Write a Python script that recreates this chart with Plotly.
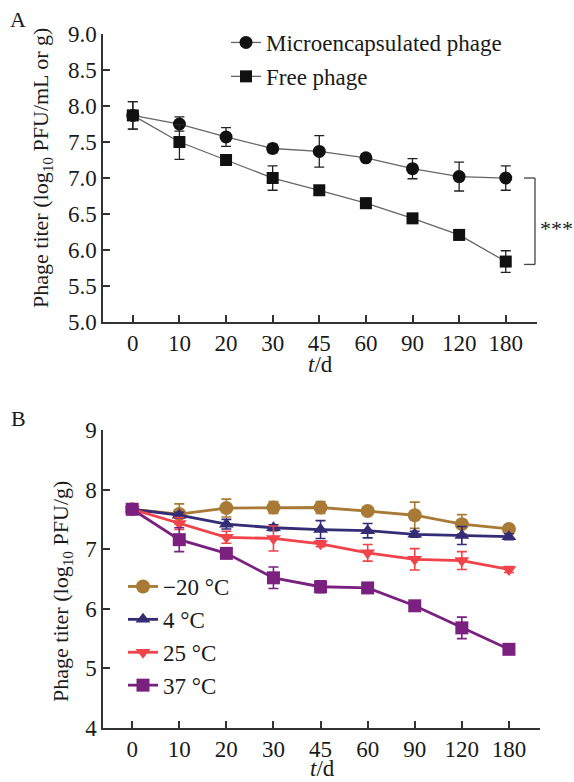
import plotly.graph_objects as go

# ---------------- data ----------------
days = ["0", "10", "20", "30", "45", "60", "90", "120", "180"]

# Panel A
micro = [7.87, 7.75, 7.57, 7.41, 7.37, 7.28, 7.13, 7.02, 7.00]
micro_err = [0.19, 0.10, 0.13, 0.06, 0.22, 0.04, 0.14, 0.20, 0.17]
free = [7.87, 7.50, 7.25, 7.00, 6.83, 6.65, 6.44, 6.21, 5.84]
free_err = [0.19, 0.24, 0.05, 0.17, 0.04, 0.07, 0.04, 0.07, 0.15]

# Panel B
t_m20 = [7.67, 7.59, 7.69, 7.70, 7.70, 7.64, 7.57, 7.42, 7.34]
t_m20_err = [0.05, 0.17, 0.15, 0.10, 0.10, 0.04, 0.22, 0.16, 0.04]
t_4 = [7.67, 7.57, 7.42, 7.36, 7.33, 7.31, 7.25, 7.23, 7.21]
t_4_err = [0.05, 0.05, 0.08, 0.05, 0.15, 0.12, 0.05, 0.15, 0.05]
t_25 = [7.67, 7.43, 7.20, 7.18, 7.09, 6.94, 6.83, 6.81, 6.66]
t_25_err = [0.05, 0.10, 0.10, 0.21, 0.05, 0.14, 0.18, 0.15, 0.05]
t_37 = [7.67, 7.16, 6.93, 6.52, 6.37, 6.35, 6.05, 5.68, 5.32]
t_37_err = [0.05, 0.20, 0.05, 0.18, 0.10, 0.04, 0.06, 0.18, 0.04]

FONT = "Liberation Serif"
AX = "#333333"

fig = go.Figure()

# ---------------- Panel A ----------------
fig.add_trace(go.Scatter(
    x=days, y=micro, name="Microencapsulated phage", mode="lines+markers",
    line=dict(color="#666666", width=1.3),
    marker=dict(symbol="circle", size=13, color="#111111"),
    error_y=dict(type="data", array=micro_err, color="#222222", thickness=1.3, width=5),
    xaxis="x", yaxis="y", legend="legend", legendgroup="a1"))
fig.add_trace(go.Scatter(
    x=days, y=free, name="Free phage", mode="lines+markers",
    line=dict(color="#666666", width=1.3),
    marker=dict(symbol="square", size=12, color="#111111"),
    error_y=dict(type="data", array=free_err, color="#222222", thickness=1.3, width=5),
    xaxis="x", yaxis="y", legend="legend", legendgroup="a2"))

# ---------------- Panel B ----------------
series_b = [
    ("\u221220 \u00b0C", t_m20, t_m20_err, "#A87A35", "circle", 14),
    ("4 \u00b0C", t_4, t_4_err, "#352C76", "triangle-up", 13),
    ("25 \u00b0C", t_25, t_25_err, "#F0434A", "triangle-down", 13),
    ("37 \u00b0C", t_37, t_37_err, "#7A2180", "square", 13),
]
for i, (nm, vals, errs, col, sym, sz) in enumerate(series_b):
    fig.add_trace(go.Scatter(
        x=days, y=vals, name=nm, mode="lines+markers",
        line=dict(color=col, width=2.8),
        marker=dict(symbol=sym, size=sz, color=col),
        error_y=dict(type="data", array=errs, color=col, thickness=1.6, width=5),
        xaxis="x2", yaxis="y2", legend="legend2", legendgroup="b%d" % i))

axis_common = dict(
    showline=True, linecolor=AX, linewidth=1.5, ticks="inside", ticklen=7,
    tickcolor=AX, tickwidth=1.5, showgrid=False, zeroline=False,
    tickfont=dict(family=FONT, size=23, color="#1a1a1a"),
)

fig.update_layout(
    width=574, height=782, margin=dict(l=0, r=0, t=0, b=0, autoexpand=False),
    paper_bgcolor="white", plot_bgcolor="white",
    font=dict(family=FONT, size=22, color="#1a1a1a"),
    xaxis=dict(domain=[0.1794, 0.9355], type="category", range=[-0.64, 8.67],
               anchor="y", **axis_common),
    yaxis=dict(domain=[0.5882, 0.9565], range=[5, 9], dtick=0.5, tickformat=".1f",
               anchor="x", **axis_common),
    xaxis2=dict(domain=[0.1794, 0.9408], type="category", range=[-0.62, 8.66],
                anchor="y2", **axis_common),
    yaxis2=dict(domain=[0.0691, 0.4501], range=[4, 9], dtick=1,
                anchor="x2", **axis_common),
    legend=dict(x=226 / 574, y=1.0 - 21 / 782, xanchor="left", yanchor="top",
                bgcolor="rgba(0,0,0,0)", font=dict(family=FONT, size=23),
                traceorder="grouped", tracegroupgap=1, itemwidth=30),
    legend2=dict(x=123 / 574, y=1.0 - 565 / 782, xanchor="left", yanchor="top",
                 bgcolor="rgba(0,0,0,0)", font=dict(family=FONT, size=23),
                 traceorder="grouped", tracegroupgap=0, itemwidth=30),
)

annos = [
    dict(text="A", x=18 / 574, y=1 - 19 / 782, font=dict(size=22)),
    dict(text="B", x=18 / 574, y=1 - 418 / 782, font=dict(size=22)),
    dict(text="Phage titer (log<sub>10</sub> PFU/mL or g)", x=42 / 574, y=1 - 168 / 782,
         textangle=-90, font=dict(size=22)),
    dict(text="Phage titer (log<sub>10</sub> PFU/g)", x=62 / 574, y=1 - 592 / 782,
         textangle=-90, font=dict(size=22)),
    dict(text="<i>t</i>/d", x=320 / 574, y=1 - 364 / 782, font=dict(size=23)),
    dict(text="<i>t</i>/d", x=322 / 574, y=1 - 768 / 782, font=dict(size=23)),
    dict(text="***", x=556 / 574, y=1 - 228 / 782, font=dict(size=22)),
]
for a in annos:
    a.update(xref="paper", yref="paper", showarrow=False, xanchor="center", yanchor="middle")
    fig.add_annotation(**a)

# significance bracket
bx0, bx1 = 524 / 574, 535 / 574
for (x0, y0, x1, y1) in [(bx0, 7.0, bx1, 7.0), (bx1, 7.0, bx1, 5.8), (bx0, 5.8, bx1, 5.8)]:
    fig.add_shape(type="line", xref="paper", yref="y", x0=x0, y0=y0, x1=x1, y1=y1,
                  line=dict(color="#444444", width=1.3))

fig.write_html("out.html")
